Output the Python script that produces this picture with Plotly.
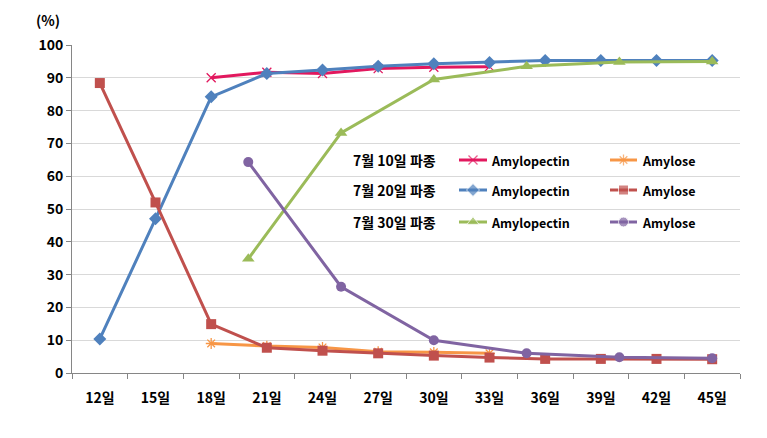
import plotly.graph_objects as go

# Data
day_labels = ["12일", "15일", "18일", "21일", "24일", "27일", "30일", "33일", "36일", "39일", "42일", "45일"]
days_all = [12, 15, 18, 21, 24, 27, 30, 33, 36, 39, 42, 45]

days_0710 = [18, 21, 24, 27, 30, 33]
amylopectin_0710 = [90.0, 91.7, 91.3, 92.8, 93.2, 93.4]
amylose_0710 = [9.0, 8.2, 7.8, 6.5, 6.3, 6.0]

days_0720 = days_all
amylopectin_0720 = [10.4, 47.0, 84.2, 91.3, 92.4, 93.5, 94.3, 94.7, 95.3, 95.3, 95.3, 95.3]
amylose_0720 = [88.4, 52.0, 14.9, 7.7, 6.8, 6.0, 5.3, 4.7, 4.3, 4.3, 4.3, 4.2]

days_0730 = [20, 25, 30, 35, 40, 45]
amylopectin_0730 = [34.8, 73.2, 89.5, 93.5, 94.8, 95.0]
amylose_0730 = [64.3, 26.3, 10.0, 6.0, 4.8, 4.5]

row_labels = ["7월 10일 파종", "7월 20일 파종", "7월 30일 파종"]
component_names = ["Amylopectin", "Amylose"]

FONT = "Noto Sans CJK KR"
C_PINK = "#E2185E"
C_ORANGE = "#F79646"
C_BLUE = "#4F81BD"
C_RED = "#C0504D"
C_GREEN = "#9BBB59"
C_PURPLE = "#8064A2"

# page body has an 8px default margin; compensate so the window layout matches
OFF = 8
WIN_W, WIN_H = 767, 438
W, H = WIN_W - OFF, WIN_H - OFF
L, T = 72 - OFF, 45 - OFF
R = W - (740 - OFF)
B = H - (373 - OFF)
PW = W - L - R
PH = H - T - B

fig = go.Figure()

series = [
    (days_0710, amylopectin_0710, C_PINK, "x-thin", 9, 0, 0),
    (days_0710, amylose_0710, C_ORANGE, "asterisk", 9, 0, 1),
    (days_0720, amylopectin_0720, C_BLUE, "diamond", 10, 1, 0),
    (days_0720, amylose_0720, C_RED, "square", 10, 1, 1),
    (days_0730, amylopectin_0730, C_GREEN, "triangle-up", 11, 2, 0),
    (days_0730, amylose_0730, C_PURPLE, "circle", 10, 2, 1),
]

def marker_of(color, symbol, size):
    m = dict(symbol=symbol, size=size, color=color)
    if symbol in ("x-thin", "asterisk"):
        m["line"] = dict(color=color, width=1.3)
    return m

for x, y, color, symbol, size, row, col in series:
    fig.add_trace(go.Scatter(
        x=x, y=y, name=f"{row_labels[row]} {component_names[col]}",
        mode="lines+markers", line=dict(color=color, width=3),
        marker=marker_of(color, symbol, size), showlegend=False,
    ))

# Manual legend (grid layout) drawn on an overlay axis in pixel units (window coords)
row_y = [160, 190, 222]
col_sample_x = [(459, 487), (610, 637)]
col_text_x = [489, 640]
row_text_x = 351

def px_x(xw):
    return xw - 72

def px_y(yw):
    return 373 - yw

annotations = []
for x, y, color, symbol, size, row, col in series:
    x0, x1 = col_sample_x[col]
    yy = px_y(row_y[row])
    m = marker_of(color, symbol, size)
    m["size"] = [0, size, 0]
    fig.add_trace(go.Scatter(
        x=[px_x(x0), px_x((x0 + x1) / 2), px_x(x1)], y=[yy, yy, yy],
        xaxis="x2", yaxis="y2", mode="lines+markers",
        line=dict(color=color, width=3), marker=m,
        showlegend=False, hoverinfo="skip",
    ))
    annotations.append(dict(
        text=component_names[col], xref="x2", yref="y2",
        x=px_x(col_text_x[col]), y=yy, xanchor="left", yanchor="middle",
        showarrow=False, font=dict(family=FONT, size=12.5, color="#000", weight="bold"),
    ))
for i, lab in enumerate(row_labels):
    annotations.append(dict(
        text=lab, xref="x2", yref="y2",
        x=px_x(row_text_x), y=px_y(row_y[i]), xanchor="left", yanchor="middle",
        showarrow=False, font=dict(family=FONT, size=14, color="#000", weight="bold"),
    ))
annotations.append(dict(
    text="(%)", xref="paper", yref="paper",
    x=px_x(48) / PW, y=px_y(8) / PH,
    xanchor="center", yanchor="top", showarrow=False,
    font=dict(family=FONT, size=14, color="#000", weight="bold"),
))

fig.update_layout(
    width=W, height=H,
    margin=dict(l=L, r=R, t=T, b=B, autoexpand=False),
    plot_bgcolor="white", paper_bgcolor="white",
    font=dict(family=FONT, size=14, color="#000"),
    showlegend=False,
    xaxis=dict(
        range=[10.5, 46.5],
        tickmode="array", tickvals=days_all, ticktext=day_labels,
        ticks="outside", ticklen=12, tickcolor="rgba(0,0,0,0)",
        showgrid=False, zeroline=False,
        showline=True, linecolor="#868686", linewidth=1,
        tickfont=dict(family=FONT, size=14, color="#000", weight="bold"),
        minor=dict(tickmode="linear", tick0=10.5, dtick=3, ticks="outside",
                   ticklen=5, tickcolor="#868686", showgrid=False),
    ),
    yaxis=dict(
        range=[0, 100], dtick=10,
        ticks="outside", ticklen=5, tickcolor="#868686",
        showgrid=True, gridcolor="#D9D9D9", gridwidth=1,
        zeroline=False,
        showline=True, linecolor="#868686", linewidth=1,
        tickfont=dict(family=FONT, size=14, color="#000", weight="bold"),
    ),
    xaxis2=dict(range=[0, PW], overlaying="x", visible=False, fixedrange=True),
    yaxis2=dict(range=[0, PH], overlaying="y", visible=False, fixedrange=True),
    annotations=annotations,
)

fig.write_html("out.html")
